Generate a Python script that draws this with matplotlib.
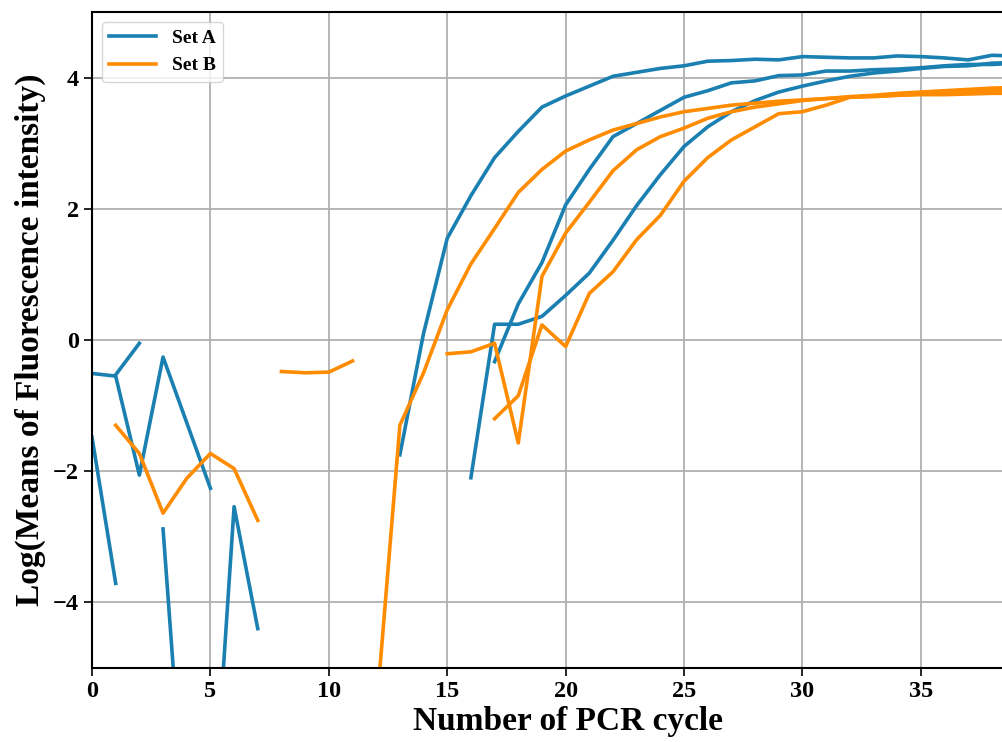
import numpy as np
import matplotlib
matplotlib.use("agg")
import matplotlib.pyplot as plt

nan = np.nan
cycles = np.arange(0, 40)

# Set A replicates (log of mean fluorescence, NaN where the mean was <= 0)
set_a_1 = [-0.51, -0.55, -2.06, -0.26, -1.26, -2.26, nan, nan, nan, nan,
           nan, nan, nan, -1.75, 0.10, 1.55, 2.20, 2.78, 3.18, 3.55,
           3.72, 3.87, 4.02, 4.08, 4.14, 4.18, 4.25, 4.26, 4.28, 4.27,
           4.32, 4.31, 4.30, 4.30, 4.33, 4.32, 4.30, 4.27, 4.34, 4.33]
set_a_2 = [-1.48, -3.71, nan, -2.88, -7.8, -8.0, -2.54, -4.40, nan, nan,
           nan, nan, nan, nan, nan, nan, -2.10, 0.24, 0.24, 0.36,
           0.68, 1.02, 1.52, 2.05, 2.52, 2.95, 3.25, 3.48, 3.65, 3.78,
           3.87, 3.95, 4.02, 4.07, 4.10, 4.14, 4.17, 4.18, 4.22, 4.23]
set_a_3 = [nan, -0.53, -0.05, nan, nan, nan, nan, nan, nan, nan,
           nan, nan, nan, nan, nan, nan, nan, -0.33, 0.55, 1.18,
           2.06, 2.60, 3.10, 3.30, 3.50, 3.70, 3.80, 3.92, 3.95, 4.03,
           4.04, 4.10, 4.10, 4.12, 4.13, 4.15, 4.18, 4.20, 4.20, 4.22]

# Set B replicates
set_b_1 = [nan, nan, nan, nan, nan, nan, nan, nan, nan, nan,
           nan, nan, -5.7, -1.30, -0.50, 0.46, 1.16, 1.70, 2.25, 2.60,
           2.88, 3.05, 3.20, 3.30, 3.40, 3.48, 3.53, 3.58, 3.61, 3.64,
           3.66, 3.68, 3.70, 3.71, 3.73, 3.75, 3.77, 3.78, 3.80, 3.82]
set_b_2 = [nan, nan, nan, nan, nan, nan, nan, nan, -0.48, -0.50,
           -0.49, -0.32, nan, nan, nan, -0.21, -0.18, -0.05, -1.57, 0.97,
           1.63, 2.10, 2.58, 2.90, 3.10, 3.23, 3.38, 3.48, 3.55, 3.60,
           3.65, 3.68, 3.71, 3.73, 3.76, 3.78, 3.80, 3.82, 3.84, 3.85]
set_b_3 = [nan, -1.30, -1.73, -2.64, -2.11, -1.73, -1.96, -2.75, nan, nan,
           nan, nan, nan, nan, nan, nan, nan, -1.20, -0.85, 0.23,
           -0.10, 0.71, 1.04, 1.53, 1.90, 2.42, 2.78, 3.05, 3.25, 3.45,
           3.48, 3.58, 3.70, 3.72, 3.73, 3.74, 3.74, 3.75, 3.76, 3.76]

blue = "#1a7fb1"
orange = "#ff8c00"

plt.rcParams['font.family'] = ['Liberation Serif', 'DejaVu Serif']
plt.rcParams['font.weight'] = 'bold'

fig = plt.figure(figsize=(10.03, 7.42), dpi=100)
# the axes run past the right edge of the figure (cropped like the original)
ax = fig.add_axes([92/1003, 74/742, 952/1003, 656/742])

lw = 2.6
for i, s in enumerate([set_a_1, set_a_2, set_a_3]):
    ax.plot(cycles, s, color=blue, lw=lw, label="Set A" if i == 0 else None)
for i, s in enumerate([set_b_1, set_b_2, set_b_3]):
    ax.plot(cycles, s, color=orange, lw=lw, label="Set B" if i == 0 else None)

ax.set_xlim(0, 40.2)
ax.set_ylim(-5, 5)
ax.set_xticks([0, 5, 10, 15, 20, 25, 30, 35])
ax.set_yticks([-4, -2, 0, 2, 4])
ax.grid(True, color="#b0b0b0", lw=1.3)
ax.set_axisbelow(True)
for sp in ['left', 'bottom', 'top', 'right']:
    ax.spines[sp].set_linewidth(1.5)
ax.tick_params(labelsize=17.5, length=6, width=1.2)
for lab in ax.get_xticklabels() + ax.get_yticklabels():
    lab.set_fontweight('bold')

ax.set_xlabel("Number of PCR cycle", fontsize=24, fontweight='bold', labelpad=3)
ax.set_ylabel("Log(Means of Fluorescence intensity)", fontsize=24, fontweight='bold', labelpad=5)

leg = ax.legend(loc="upper left", prop={'weight': 'bold', 'size': 14},
                handlelength=2.4, fancybox=True, framealpha=0.8)

fig.savefig("out.png", dpi=100)
